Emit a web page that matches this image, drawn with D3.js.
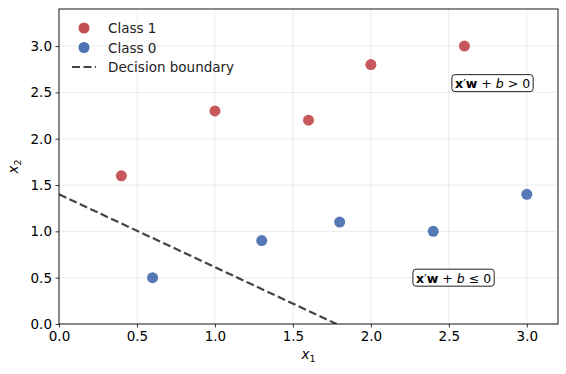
<!DOCTYPE html>
<html>
<head>
<meta charset="utf-8">
<script src="https://cdn.jsdelivr.net/npm/d3@7"></script>
<style>
  body { margin: 0; background: #fff; }
  svg { font-family: "DejaVu Sans", sans-serif; }
</style>
</head>
<body>
<div id="wrapper"></div>
<script>
// data
const class1X = [0.4, 1.0, 1.6, 2.0, 2.6];
const class1Y = [1.6, 2.3, 2.2, 2.8, 3.0];
const class0X = [0.6, 1.3, 1.8, 2.4, 3.0];
const class0Y = [0.5, 0.9, 1.1, 1.0, 1.4];
const boundaryX = [0, 1.78];
const boundaryY = [1.4, 0];
const xTicks = [0, 0.5, 1.0, 1.5, 2.0, 2.5, 3.0];
const yTicks = [0, 0.5, 1.0, 1.5, 2.0, 2.5, 3.0];

function drawChart() {
  const dimensions = {
    width: 566,
    height: 374,
    margin: { top: 9, right: 8, bottom: 50, left: 59 },
  };
  dimensions.boundedWidth = dimensions.width - dimensions.margin.left - dimensions.margin.right;
  dimensions.boundedHeight = dimensions.height - dimensions.margin.top - dimensions.margin.bottom;

  const svg = d3.select("#wrapper").append("svg")
    .attr("width", dimensions.width)
    .attr("height", dimensions.height);

  const bounds = svg.append("g")
    .attr("transform", `translate(${dimensions.margin.left},${dimensions.margin.top})`);

  const xScale = d3.scaleLinear().domain([0, 3.2]).range([0, dimensions.boundedWidth]);
  const yScale = d3.scaleLinear().domain([0, 3.4]).range([dimensions.boundedHeight, 0]);

  svg.append("defs").append("clipPath").attr("id", "clip")
    .append("rect")
    .attr("width", dimensions.boundedWidth)
    .attr("height", dimensions.boundedHeight);

  // grid
  bounds.append("g").selectAll("line").data(xTicks).join("line")
    .attr("x1", (d) => xScale(d)).attr("x2", (d) => xScale(d))
    .attr("y1", 0).attr("y2", dimensions.boundedHeight)
    .attr("stroke", "#b0b0b0").attr("stroke-opacity", 0.3).attr("stroke-width", 0.8);
  bounds.append("g").selectAll("line").data(yTicks).join("line")
    .attr("y1", (d) => yScale(d)).attr("y2", (d) => yScale(d))
    .attr("x1", 0).attr("x2", dimensions.boundedWidth)
    .attr("stroke", "#b0b0b0").attr("stroke-opacity", 0.3).attr("stroke-width", 0.8);

  // decision boundary
  const lineGenerator = d3.line()
    .x((d) => xScale(d[0]))
    .y((d) => yScale(d[1]));
  bounds.append("path")
    .attr("clip-path", "url(#clip)")
    .attr("d", lineGenerator(d3.zip(boundaryX, boundaryY)))
    .attr("fill", "none")
    .attr("stroke", "#444444")
    .attr("stroke-width", 2.2)
    .attr("stroke-dasharray", "8,3.5");

  // points
  const drawPoints = (xs, ys, color) => {
    bounds.append("g").selectAll("circle").data(d3.zip(xs, ys)).join("circle")
      .attr("cx", (d) => xScale(d[0]))
      .attr("cy", (d) => yScale(d[1]))
      .attr("r", 5.5)
      .attr("fill", color)
      .attr("fill-opacity", 0.95);
  };
  drawPoints(class1X, class1Y, "#c44e52");
  drawPoints(class0X, class0Y, "#4c72b0");

  // annotations
  const annotate = (x, y, rel) => {
    const g = bounds.append("g");
    const t = g.append("text")
      .attr("x", xScale(x)).attr("y", yScale(y))
      .attr("text-anchor", "middle")
      .attr("dominant-baseline", "central")
      .style("font-size", "12.5px")
      .style("fill", "#000");
    t.append("tspan").style("font-weight", "bold").text("x");
    t.append("tspan").text("′");
    t.append("tspan").style("font-weight", "bold").text("w");
    t.append("tspan").text(" + ");
    t.append("tspan").style("font-style", "italic").text("b");
    t.append("tspan").text(` ${rel} 0`);
    const bb = t.node().getBBox();
    g.insert("rect", "text")
      .attr("x", bb.x - 3).attr("y", bb.y - 1)
      .attr("width", bb.width + 6).attr("height", bb.height + 2)
      .attr("rx", 3)
      .attr("fill", "#fff").attr("stroke", "#222").attr("stroke-width", 1);
  };
  annotate(2.78, 2.6, ">");
  annotate(2.53, 0.5, "≤");

  // axes
  const xAxis = bounds.append("g")
    .attr("transform", `translate(0,${dimensions.boundedHeight})`)
    .call(d3.axisBottom(xScale).tickValues(xTicks).tickFormat(d3.format(".1f")).tickSize(3.5).tickPadding(3.5));
  const yAxis = bounds.append("g")
    .call(d3.axisLeft(yScale).tickValues(yTicks).tickFormat(d3.format(".1f")).tickSize(3.5).tickPadding(3.5));
  [xAxis, yAxis].forEach((a) => {
    a.select(".domain").remove();
    a.selectAll("text").style("font-size", "13.5px").style("font-family", "DejaVu Sans").attr("fill", "#000");
    a.selectAll("line").attr("stroke", "#000").attr("stroke-width", 0.8);
  });

  // frame
  bounds.append("rect")
    .attr("width", dimensions.boundedWidth).attr("height", dimensions.boundedHeight)
    .attr("fill", "none").attr("stroke", "#000").attr("stroke-width", 0.9);

  // axis labels
  const xl = svg.append("text")
    .attr("x", dimensions.margin.left + dimensions.boundedWidth / 2)
    .attr("y", 359)
    .attr("text-anchor", "middle")
    .style("font-size", "13.5px");
  xl.append("tspan").style("font-style", "italic").text("x");
  xl.append("tspan").attr("dy", 3).style("font-size", "9.5px").text("1");

  const yl = svg.append("text")
    .attr("transform", `translate(18,${dimensions.margin.top + dimensions.boundedHeight / 2}) rotate(-90)`)
    .attr("text-anchor", "middle")
    .style("font-size", "13.5px");
  yl.append("tspan").style("font-style", "italic").text("x");
  yl.append("tspan").attr("dy", 3).style("font-size", "9.5px").text("2");

  // legend
  const legend = svg.append("g");
  const items = [
    { label: "Class 1", color: "#c44e52", type: "dot" },
    { label: "Class 0", color: "#4c72b0", type: "dot" },
    { label: "Decision boundary", color: "#444444", type: "line" },
  ];
  items.forEach((it, i) => {
    const y = 28 + i * 19.5;
    if (it.type === "dot") {
      legend.append("circle").attr("cx", 84).attr("cy", y).attr("r", 5.5).attr("fill", it.color);
    } else {
      legend.append("line").attr("x1", 72).attr("x2", 96).attr("y1", y).attr("y2", y)
        .attr("stroke", it.color).attr("stroke-width", 2.2).attr("stroke-dasharray", "8,3.5");
    }
    legend.append("text").attr("x", 108).attr("y", y).attr("dominant-baseline", "central")
      .style("font-size", "13.5px").attr("fill", "#222").text(it.label);
  });
}

drawChart();
</script>
</body>
</html>
